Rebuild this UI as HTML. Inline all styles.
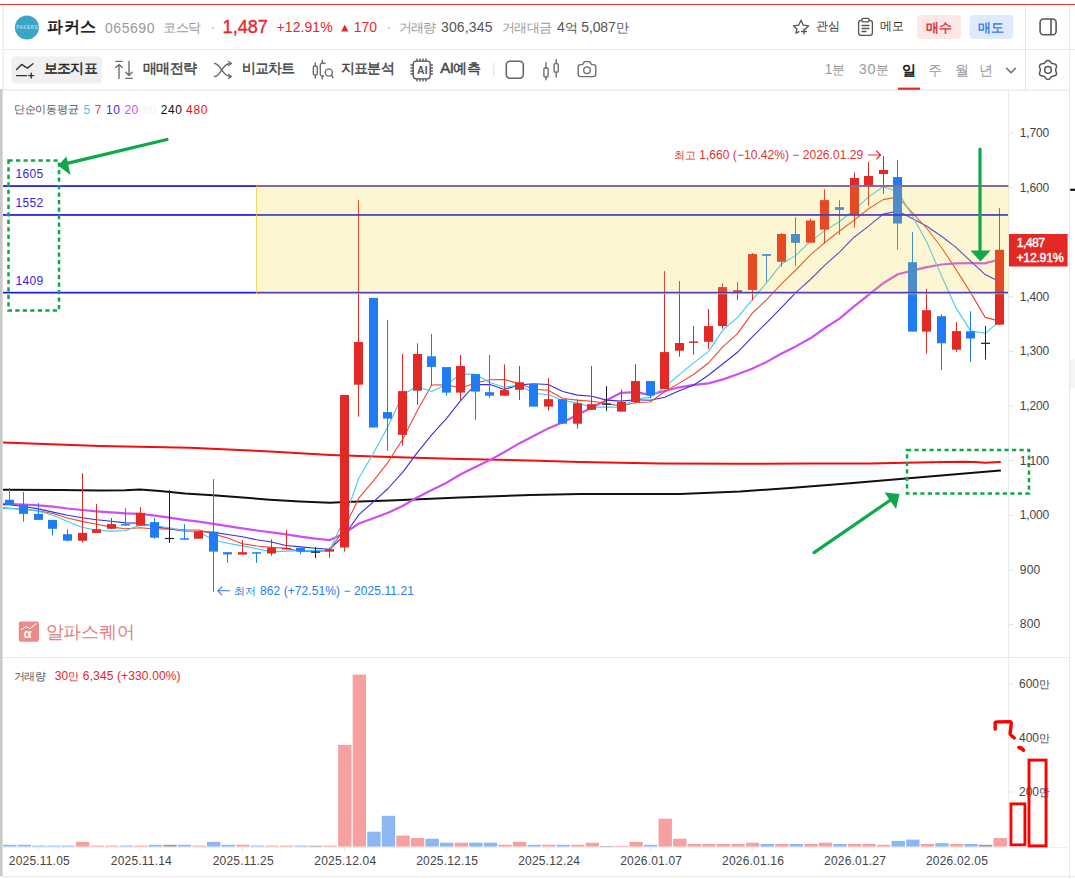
<!DOCTYPE html>
<html lang="ko"><head><meta charset="utf-8"><title>chart</title>
<style>
html,body{margin:0;padding:0;background:#fff}
body{width:1075px;height:879px;overflow:hidden;position:relative;font-family:"Liberation Sans",sans-serif}
svg{position:absolute;left:0;top:0}
.t{position:absolute;white-space:nowrap;margin:0;padding:0}
.k{display:inline-block;text-align:left;overflow:visible;white-space:nowrap}
</style></head><body>
<svg width="1075" height="879" viewBox="0 0 1075 879">
<rect x="0" y="4" width="1075" height="1" fill="#e23b3b"/>
<rect x="0" y="89" width="2.6" height="788" fill="#c9c9c9"/>
<rect x="2.6" y="5" width="1" height="85" fill="#e6e6e6"/>
<rect x="3" y="49" width="1072" height="1" fill="#e8e8e8"/>
<rect x="3" y="89.6" width="1067" height="1" fill="#e4e4e4"/>
<rect x="1069" y="5" width="1" height="874" fill="#e9e9e9"/>
<rect x="1025" y="5" width="1" height="85" fill="#e6e6e6"/>
<rect x="1008" y="90" width="1" height="757" fill="#ebebeb"/>
<rect x="3" y="657" width="1065" height="1" fill="#e9e9e9"/>
<rect x="3" y="847" width="1065" height="1" fill="#efefef"/>
<rect x="0" y="876" width="1075" height="1" fill="#e6e6e6"/>
<rect x="1070" y="359.3" width="5" height="29" fill="#f5f5f5"/>
<rect x="1070.2" y="188.7" width="5" height="2.2" fill="#111"/>
<rect x="1009" y="132.6" width="4" height="1" fill="#e2e2e2"/>
<rect x="1009" y="187.2" width="4" height="1" fill="#e2e2e2"/>
<rect x="1009" y="296.4" width="4" height="1" fill="#e2e2e2"/>
<rect x="1009" y="351.0" width="4" height="1" fill="#e2e2e2"/>
<rect x="1009" y="405.6" width="4" height="1" fill="#e2e2e2"/>
<rect x="1009" y="460.2" width="4" height="1" fill="#e2e2e2"/>
<rect x="1009" y="514.8" width="4" height="1" fill="#e2e2e2"/>
<rect x="1009" y="569.4" width="4" height="1" fill="#e2e2e2"/>
<rect x="1009" y="624.0" width="4" height="1" fill="#e2e2e2"/>
<rect x="1009" y="683.4" width="4" height="1" fill="#e2e2e2"/>
<rect x="1009" y="737.6" width="4" height="1" fill="#e2e2e2"/>
<rect x="1009" y="791.5" width="4" height="1" fill="#e2e2e2"/>
<rect x="37.9" y="847" width="1" height="4" fill="#e2e2e2"/>
<rect x="139.9" y="847" width="1" height="4" fill="#e2e2e2"/>
<rect x="241.8" y="847" width="1" height="4" fill="#e2e2e2"/>
<rect x="343.8" y="847" width="1" height="4" fill="#e2e2e2"/>
<rect x="445.8" y="847" width="1" height="4" fill="#e2e2e2"/>
<rect x="547.7" y="847" width="1" height="4" fill="#e2e2e2"/>
<rect x="649.7" y="847" width="1" height="4" fill="#e2e2e2"/>
<rect x="751.6" y="847" width="1" height="4" fill="#e2e2e2"/>
<rect x="853.6" y="847" width="1" height="4" fill="#e2e2e2"/>
<rect x="955.5" y="847" width="1" height="4" fill="#e2e2e2"/>
<clipPath id="cp"><rect x="3" y="91" width="1005.5" height="565"/></clipPath>
<g clip-path="url(#cp)">
<polyline points="3.0,489.7 60.0,490.0 100.0,490.5 125.0,490.3 140.0,489.5 160.0,491.0 185.0,493.5 213.0,495.3 270.0,499.7 300.0,501.5 330.0,502.7 345.0,502.0 390.0,500.5 460.0,497.5 530.0,495.0 580.0,494.0 680.0,494.0 740.0,491.5 790.0,488.1 850.0,483.2 900.0,479.0 950.0,474.8 1000.0,470.6" fill="none" stroke="#111" stroke-width="2" stroke-linejoin="round" stroke-linecap="round" />
<polyline points="3.0,442.5 100.0,446.0 190.0,447.8 270.0,451.5 330.0,454.9 390.0,457.1 460.0,459.0 530.0,460.5 580.0,462.0 660.0,463.6 740.0,463.8 810.0,463.6 870.0,463.5 930.0,462.2 965.0,461.8 975.0,462.0 985.0,462.7 1000.0,461.9" fill="none" stroke="#f20d0d" stroke-width="2" stroke-linejoin="round" stroke-linecap="round" />
<polyline points="-5.3,503.9 9.3,504.0 23.9,504.5 38.4,505.4 53.0,506.6 67.6,508.5 82.1,510.0 96.7,511.3 111.3,512.3 125.8,513.4 140.4,513.9 155.0,515.6 169.5,517.7 184.1,519.9 198.6,521.7 213.2,523.8 227.8,526.1 242.3,528.3 256.9,530.5 271.5,532.4 286.0,534.4 300.6,536.7 315.2,538.6 329.7,540.1 344.3,533.4 358.9,523.5 373.4,518.2 388.0,512.7 402.6,506.0 417.1,497.4 431.7,490.1 446.2,482.9 460.8,474.3 475.4,466.9 489.9,460.1 504.5,452.0 519.1,443.4 533.6,436.1 548.2,428.4 562.8,422.2 577.3,415.0 591.9,407.6 606.5,400.2 621.0,392.8 635.6,392.1 650.2,394.8 664.7,391.0 679.3,387.3 693.9,384.8 708.4,383.4 723.0,379.4 737.5,374.3 752.1,368.7 766.7,361.9 781.2,353.8 795.8,346.4 810.4,338.3 824.9,328.0 839.5,318.6 854.1,306.3 868.6,294.9 883.2,283.2 897.8,274.2 912.3,270.6 926.9,267.1 941.5,264.5 956.0,263.4 970.6,263.2 985.2,263.3 999.7,259.5" fill="none" stroke="#cf4ff0" stroke-width="2.2" stroke-linejoin="round" stroke-linecap="round" />
<polyline points="-5.3,504.5 9.3,504.7 23.9,506.5 38.4,508.9 53.0,512.1 67.6,515.3 82.1,517.7 96.7,519.7 111.3,521.2 125.8,522.9 140.4,523.3 155.0,526.6 169.5,529.0 184.1,531.0 198.6,531.3 213.2,532.4 227.8,534.5 242.3,536.8 256.9,539.8 271.5,542.0 286.0,545.5 300.6,546.9 315.2,548.2 329.7,549.2 344.3,535.5 358.9,514.6 373.4,501.9 388.0,488.5 402.6,472.3 417.1,452.9 431.7,434.8 446.2,418.9 460.8,400.3 475.4,384.5 489.9,384.6 504.5,389.4 519.1,384.9 533.6,383.7 548.2,384.5 562.8,391.5 577.3,395.1 591.9,396.3 606.5,400.1 621.0,401.1 635.6,399.7 650.2,400.2 664.7,397.2 679.3,390.8 693.9,385.0 708.4,375.3 723.0,363.7 737.5,352.3 752.1,337.2 766.7,322.6 781.2,307.9 795.8,292.7 810.4,279.5 824.9,265.2 839.5,252.1 854.1,237.2 868.6,226.1 883.2,214.1 897.8,211.1 912.3,218.6 926.9,226.3 941.5,236.3 956.0,247.4 970.6,261.2 985.2,274.6 999.7,281.7" fill="none" stroke="#3a2fe0" stroke-width="1.1" stroke-linejoin="round" stroke-linecap="round" />
<polyline points="-5.3,507.1 9.3,508.4 23.9,509.1 38.4,510.7 53.0,513.5 67.6,518.0 82.1,521.4 96.7,524.3 111.3,527.1 125.8,528.7 140.4,527.7 155.0,529.0 169.5,528.7 184.1,529.7 198.6,530.0 213.2,533.9 227.8,538.0 242.3,543.7 256.9,546.0 271.5,547.2 286.0,548.4 300.6,551.3 315.2,551.4 329.7,550.6 344.3,528.2 358.9,497.9 373.4,480.8 388.0,462.3 402.6,439.4 417.1,411.1 431.7,385.0 446.2,384.7 460.8,388.1 475.4,383.0 489.9,379.7 504.5,379.6 519.1,383.6 533.6,389.3 548.2,390.2 562.8,398.5 577.3,400.1 591.9,401.3 606.5,403.4 621.0,406.2 635.6,402.5 650.2,402.0 664.7,391.8 679.3,383.1 693.9,374.2 708.4,363.0 723.0,346.6 737.5,333.6 752.1,313.4 766.7,299.7 781.2,284.1 795.8,270.0 810.4,254.9 824.9,242.5 839.5,231.0 854.1,220.2 868.6,208.8 883.2,199.6 897.8,196.9 912.3,212.7 926.9,228.5 941.5,247.5 956.0,269.4 970.6,292.6 985.2,317.4 999.7,321.1" fill="none" stroke="#f5442f" stroke-width="1.1" stroke-linejoin="round" stroke-linecap="round" />
<polyline points="-5.3,509.0 9.3,508.2 23.9,509.1 38.4,511.3 53.0,515.3 67.6,521.6 82.1,527.2 96.7,530.3 111.3,531.1 125.8,530.5 140.4,524.9 155.0,525.9 169.5,527.7 184.1,530.9 198.6,532.1 213.2,539.8 227.8,543.2 242.3,545.9 256.9,548.7 271.5,551.9 286.0,551.1 300.6,550.6 315.2,550.6 329.7,549.7 344.3,519.2 358.9,478.0 373.4,453.2 388.0,426.5 402.6,394.8 417.1,386.6 431.7,391.6 446.2,384.6 460.8,374.1 475.4,374.2 489.9,382.6 504.5,387.2 519.1,385.1 533.6,393.3 548.2,394.8 562.8,400.4 577.3,403.0 591.9,407.4 606.5,406.9 621.0,407.5 635.6,399.0 650.2,397.4 664.7,387.0 679.3,374.7 693.9,362.6 708.4,351.6 723.0,329.9 737.5,317.6 752.1,299.8 766.7,282.7 781.2,264.2 795.8,255.4 810.4,241.4 824.9,230.6 839.5,221.5 854.1,210.3 868.6,196.9 883.2,186.8 897.8,191.5 912.3,215.8 926.9,242.3 941.5,275.7 956.0,307.9 970.6,330.9 985.2,333.3 999.7,321.2" fill="none" stroke="#45c8f5" stroke-width="1.1" stroke-linejoin="round" stroke-linecap="round" />
<rect x="9" y="488.0" width="1" height="16.8" fill="#1f7cf5"/>
<rect x="5" y="499.8" width="9" height="5.0" fill="#1f7cf5"/>
<rect x="23" y="492.0" width="1" height="29.7" fill="#1f7cf5"/>
<rect x="19" y="504.8" width="9" height="9.1" fill="#1f7cf5"/>
<rect x="38" y="503.1" width="1" height="16.8" fill="#1f7cf5"/>
<rect x="34" y="513.9" width="9" height="6.0" fill="#1f7cf5"/>
<rect x="52" y="519.9" width="1" height="15.8" fill="#1f7cf5"/>
<rect x="48" y="519.9" width="9" height="8.9" fill="#1f7cf5"/>
<rect x="67" y="529.2" width="1" height="12.4" fill="#1f7cf5"/>
<rect x="63" y="534.2" width="9" height="6.5" fill="#1f7cf5"/>
<rect x="82" y="473.2" width="1" height="69.4" fill="#e22926"/>
<rect x="78" y="532.9" width="9" height="7.8" fill="#e22926"/>
<rect x="96" y="504.0" width="1" height="28.9" fill="#e22926"/>
<rect x="92" y="529.2" width="9" height="3.7" fill="#e22926"/>
<rect x="111" y="518.0" width="1" height="10.8" fill="#e22926"/>
<rect x="107" y="524.1" width="9" height="4.7" fill="#e22926"/>
<rect x="125" y="508.1" width="1" height="17.5" fill="#1f7cf5"/>
<rect x="121" y="524.1" width="9" height="1.5" fill="#1f7cf5"/>
<rect x="140" y="507.2" width="1" height="18.4" fill="#e22926"/>
<rect x="136" y="512.8" width="9" height="12.8" fill="#e22926"/>
<rect x="154" y="518.0" width="1" height="20.8" fill="#1f7cf5"/>
<rect x="150" y="522.1" width="9" height="15.6" fill="#1f7cf5"/>
<rect x="169" y="490.1" width="1" height="52.8" fill="#222"/>
<rect x="165" y="537.9" width="9" height="1.2" fill="#222"/>
<rect x="184" y="524.0" width="1" height="15.8" fill="#1f7cf5"/>
<rect x="180" y="538.3" width="9" height="1.5" fill="#1f7cf5"/>
<rect x="198" y="531.2" width="1" height="7.5" fill="#e22926"/>
<rect x="194" y="531.5" width="9" height="7.2" fill="#e22926"/>
<rect x="213" y="479.1" width="1" height="112.5" fill="#1f7cf5"/>
<rect x="209" y="531.7" width="9" height="19.9" fill="#1f7cf5"/>
<rect x="227" y="552.2" width="1" height="10.6" fill="#1f7cf5"/>
<rect x="223" y="552.2" width="9" height="2.2" fill="#1f7cf5"/>
<rect x="242" y="540.1" width="1" height="14.5" fill="#e22926"/>
<rect x="238" y="552.2" width="9" height="2.4" fill="#e22926"/>
<rect x="256" y="552.2" width="1" height="10.6" fill="#1f7cf5"/>
<rect x="252" y="552.2" width="9" height="1.5" fill="#1f7cf5"/>
<rect x="271" y="539.2" width="1" height="16.5" fill="#e22926"/>
<rect x="267" y="547.5" width="9" height="6.0" fill="#e22926"/>
<rect x="286" y="529.9" width="1" height="19.5" fill="#e22926"/>
<rect x="282" y="547.9" width="9" height="1.5" fill="#e22926"/>
<rect x="300" y="547.9" width="1" height="6.5" fill="#1f7cf5"/>
<rect x="296" y="547.9" width="9" height="3.7" fill="#1f7cf5"/>
<rect x="315" y="547.0" width="1" height="11.1" fill="#222"/>
<rect x="311" y="551.6" width="9" height="1.2" fill="#222"/>
<rect x="329" y="547.5" width="1" height="10.3" fill="#e22926"/>
<rect x="325" y="549.2" width="9" height="2.4" fill="#e22926"/>
<rect x="344" y="395.0" width="1" height="156.6" fill="#e22926"/>
<rect x="340" y="395.0" width="9" height="152.5" fill="#e22926"/>
<rect x="358" y="200.2" width="1" height="216.5" fill="#e22926"/>
<rect x="354" y="342.0" width="9" height="42.7" fill="#e22926"/>
<rect x="373" y="297.9" width="1" height="129.6" fill="#1f7cf5"/>
<rect x="369" y="297.9" width="9" height="129.6" fill="#1f7cf5"/>
<rect x="387" y="319.9" width="1" height="130.9" fill="#1f7cf5"/>
<rect x="383" y="412.1" width="9" height="6.5" fill="#1f7cf5"/>
<rect x="402" y="354.0" width="1" height="91.6" fill="#e22926"/>
<rect x="398" y="391.1" width="9" height="43.7" fill="#e22926"/>
<rect x="417" y="343.3" width="1" height="61.4" fill="#e22926"/>
<rect x="413" y="354.0" width="9" height="36.7" fill="#e22926"/>
<rect x="431" y="334.0" width="1" height="51.1" fill="#1f7cf5"/>
<rect x="427" y="356.3" width="9" height="10.6" fill="#1f7cf5"/>
<rect x="446" y="367.1" width="1" height="28.6" fill="#1f7cf5"/>
<rect x="442" y="367.1" width="9" height="25.5" fill="#1f7cf5"/>
<rect x="460" y="355.0" width="1" height="45.0" fill="#e22926"/>
<rect x="456" y="366.0" width="9" height="26.6" fill="#e22926"/>
<rect x="475" y="374.1" width="1" height="45.8" fill="#1f7cf5"/>
<rect x="471" y="374.1" width="9" height="17.5" fill="#1f7cf5"/>
<rect x="489" y="355.0" width="1" height="42.8" fill="#1f7cf5"/>
<rect x="485" y="392.2" width="9" height="3.5" fill="#1f7cf5"/>
<rect x="504" y="364.3" width="1" height="31.4" fill="#e22926"/>
<rect x="500" y="390.1" width="9" height="5.6" fill="#e22926"/>
<rect x="519" y="366.0" width="1" height="34.0" fill="#e22926"/>
<rect x="515" y="382.3" width="9" height="7.5" fill="#e22926"/>
<rect x="533" y="384.1" width="1" height="22.5" fill="#1f7cf5"/>
<rect x="529" y="384.1" width="9" height="22.5" fill="#1f7cf5"/>
<rect x="548" y="378.1" width="1" height="32.6" fill="#e22926"/>
<rect x="544" y="399.2" width="9" height="7.4" fill="#e22926"/>
<rect x="562" y="399.2" width="1" height="24.5" fill="#1f7cf5"/>
<rect x="558" y="399.2" width="9" height="24.5" fill="#1f7cf5"/>
<rect x="577" y="399.5" width="1" height="29.2" fill="#e22926"/>
<rect x="573" y="403.3" width="9" height="20.4" fill="#e22926"/>
<rect x="591" y="366.0" width="1" height="43.8" fill="#e22926"/>
<rect x="587" y="404.2" width="9" height="5.6" fill="#e22926"/>
<rect x="606" y="386.1" width="1" height="25.0" fill="#222"/>
<rect x="602" y="403.6" width="9" height="1.2" fill="#222"/>
<rect x="621" y="389.3" width="1" height="22.3" fill="#e22926"/>
<rect x="617" y="402.0" width="9" height="9.6" fill="#e22926"/>
<rect x="635" y="364.2" width="1" height="39.4" fill="#e22926"/>
<rect x="631" y="381.1" width="9" height="20.9" fill="#e22926"/>
<rect x="650" y="381.1" width="1" height="17.5" fill="#1f7cf5"/>
<rect x="646" y="381.1" width="9" height="14.3" fill="#1f7cf5"/>
<rect x="664" y="271.1" width="1" height="117.8" fill="#e22926"/>
<rect x="660" y="352.1" width="9" height="36.8" fill="#e22926"/>
<rect x="679" y="281.1" width="1" height="75.6" fill="#e22926"/>
<rect x="675" y="343.0" width="9" height="7.7" fill="#e22926"/>
<rect x="693" y="326.1" width="1" height="28.7" fill="#e22926"/>
<rect x="689" y="341.4" width="9" height="1.5" fill="#e22926"/>
<rect x="708" y="309.0" width="1" height="39.8" fill="#e22926"/>
<rect x="704" y="326.1" width="9" height="15.7" fill="#e22926"/>
<rect x="722" y="283.2" width="1" height="45.5" fill="#e22926"/>
<rect x="718" y="287.1" width="9" height="38.9" fill="#e22926"/>
<rect x="737" y="281.9" width="1" height="18.0" fill="#e22926"/>
<rect x="733" y="290.2" width="9" height="1.9" fill="#e22926"/>
<rect x="752" y="253.0" width="1" height="47.5" fill="#e22926"/>
<rect x="748" y="254.1" width="9" height="35.8" fill="#e22926"/>
<rect x="766" y="254.1" width="1" height="27.8" fill="#1f7cf5"/>
<rect x="762" y="254.1" width="9" height="1.7" fill="#1f7cf5"/>
<rect x="781" y="233.1" width="1" height="33.5" fill="#e22926"/>
<rect x="777" y="234.0" width="9" height="27.8" fill="#e22926"/>
<rect x="795" y="217.3" width="1" height="48.4" fill="#1f7cf5"/>
<rect x="791" y="234.0" width="9" height="8.8" fill="#1f7cf5"/>
<rect x="810" y="218.6" width="1" height="24.1" fill="#e22926"/>
<rect x="806" y="220.5" width="9" height="22.2" fill="#e22926"/>
<rect x="824" y="189.2" width="1" height="54.2" fill="#e22926"/>
<rect x="820" y="200.1" width="9" height="29.5" fill="#e22926"/>
<rect x="839" y="200.1" width="1" height="34.6" fill="#1f7cf5"/>
<rect x="835" y="207.2" width="9" height="2.7" fill="#1f7cf5"/>
<rect x="854" y="172.4" width="1" height="55.3" fill="#e22926"/>
<rect x="850" y="178.0" width="9" height="36.7" fill="#e22926"/>
<rect x="868" y="162.2" width="1" height="43.5" fill="#e22926"/>
<rect x="864" y="176.0" width="9" height="10.0" fill="#e22926"/>
<rect x="883" y="156.0" width="1" height="37.8" fill="#e22926"/>
<rect x="879" y="170.0" width="9" height="4.1" fill="#e22926"/>
<rect x="897" y="159.8" width="1" height="89.9" fill="#1f7cf5"/>
<rect x="893" y="177.1" width="9" height="46.4" fill="#1f7cf5"/>
<rect x="912" y="232.0" width="1" height="99.6" fill="#1f7cf5"/>
<rect x="908" y="262.2" width="9" height="69.4" fill="#1f7cf5"/>
<rect x="926" y="288.8" width="1" height="64.8" fill="#e22926"/>
<rect x="922" y="310.2" width="9" height="21.4" fill="#e22926"/>
<rect x="941" y="314.3" width="1" height="55.5" fill="#1f7cf5"/>
<rect x="937" y="316.2" width="9" height="27.1" fill="#1f7cf5"/>
<rect x="956" y="322.0" width="1" height="29.7" fill="#e22926"/>
<rect x="952" y="331.1" width="9" height="18.6" fill="#e22926"/>
<rect x="970" y="311.2" width="1" height="50.6" fill="#1f7cf5"/>
<rect x="966" y="331.3" width="9" height="7.2" fill="#1f7cf5"/>
<rect x="985" y="326.0" width="1" height="33.5" fill="#222"/>
<rect x="981" y="342.7" width="9" height="1.2" fill="#222"/>
<rect x="999" y="208.0" width="1" height="116.7" fill="#e22926"/>
<rect x="995" y="249.8" width="9" height="74.9" fill="#e22926"/>
<rect x="3" y="185.2" width="1005" height="1.7" fill="#1d16e8"/>
<rect x="3" y="214.1" width="1005" height="1.7" fill="#1d16e8"/>
<rect x="3" y="291.8" width="1005" height="1.7" fill="#1d16e8"/>
</g>
<rect x="3.10" y="844.8" width="13.4" height="1.8" fill="#8db7f4"/>
<rect x="17.67" y="844.8" width="13.4" height="1.8" fill="#8db7f4"/>
<rect x="32.23" y="845.6" width="13.4" height="1.0" fill="#8db7f4"/>
<rect x="46.80" y="845.6" width="13.4" height="1.0" fill="#8db7f4"/>
<rect x="61.36" y="845.6" width="13.4" height="1.0" fill="#8db7f4"/>
<rect x="75.92" y="841.9" width="13.4" height="4.7" fill="#f6a0a0"/>
<rect x="90.49" y="845.6" width="13.4" height="1.0" fill="#f6a0a0"/>
<rect x="105.05" y="845.6" width="13.4" height="1.0" fill="#f6a0a0"/>
<rect x="119.62" y="845.6" width="13.4" height="1.0" fill="#8db7f4"/>
<rect x="134.19" y="845.6" width="13.4" height="1.0" fill="#f6a0a0"/>
<rect x="148.75" y="844.8" width="13.4" height="1.8" fill="#8db7f4"/>
<rect x="163.32" y="844.8" width="13.4" height="1.8" fill="#9a9a9a"/>
<rect x="177.88" y="844.8" width="13.4" height="1.8" fill="#8db7f4"/>
<rect x="192.45" y="845.6" width="13.4" height="1.0" fill="#f6a0a0"/>
<rect x="207.01" y="841.9" width="13.4" height="4.7" fill="#8db7f4"/>
<rect x="221.58" y="844.8" width="13.4" height="1.8" fill="#8db7f4"/>
<rect x="236.14" y="844.8" width="13.4" height="1.8" fill="#f6a0a0"/>
<rect x="250.70" y="845.6" width="13.4" height="1.0" fill="#8db7f4"/>
<rect x="265.27" y="845.6" width="13.4" height="1.0" fill="#f6a0a0"/>
<rect x="279.84" y="845.6" width="13.4" height="1.0" fill="#f6a0a0"/>
<rect x="294.40" y="845.6" width="13.4" height="1.0" fill="#8db7f4"/>
<rect x="308.97" y="845.8" width="13.4" height="0.8" fill="#9a9a9a"/>
<rect x="323.53" y="845.6" width="13.4" height="1.0" fill="#f6a0a0"/>
<rect x="338.10" y="744.9" width="13.4" height="101.7" fill="#f6a0a0"/>
<rect x="352.66" y="674.6" width="13.4" height="172.0" fill="#f6a0a0"/>
<rect x="367.23" y="831.7" width="13.4" height="14.9" fill="#8db7f4"/>
<rect x="381.79" y="815.8" width="13.4" height="30.8" fill="#8db7f4"/>
<rect x="396.36" y="835.6" width="13.4" height="11.0" fill="#f6a0a0"/>
<rect x="410.92" y="838.0" width="13.4" height="8.6" fill="#f6a0a0"/>
<rect x="425.49" y="838.8" width="13.4" height="7.8" fill="#8db7f4"/>
<rect x="440.05" y="842.7" width="13.4" height="3.9" fill="#8db7f4"/>
<rect x="454.62" y="842.7" width="13.4" height="3.9" fill="#f6a0a0"/>
<rect x="469.18" y="842.7" width="13.4" height="3.9" fill="#8db7f4"/>
<rect x="483.75" y="842.7" width="13.4" height="3.9" fill="#8db7f4"/>
<rect x="498.31" y="844.8" width="13.4" height="1.8" fill="#f6a0a0"/>
<rect x="512.87" y="841.9" width="13.4" height="4.7" fill="#f6a0a0"/>
<rect x="527.44" y="844.8" width="13.4" height="1.8" fill="#8db7f4"/>
<rect x="542.00" y="844.8" width="13.4" height="1.8" fill="#f6a0a0"/>
<rect x="556.57" y="844.8" width="13.4" height="1.8" fill="#8db7f4"/>
<rect x="571.13" y="844.8" width="13.4" height="1.8" fill="#f6a0a0"/>
<rect x="585.70" y="842.7" width="13.4" height="3.9" fill="#f6a0a0"/>
<rect x="600.26" y="846.0" width="13.4" height="0.6" fill="#9a9a9a"/>
<rect x="614.83" y="845.8" width="13.4" height="0.8" fill="#f6a0a0"/>
<rect x="629.39" y="841.9" width="13.4" height="4.7" fill="#f6a0a0"/>
<rect x="643.96" y="844.8" width="13.4" height="1.8" fill="#8db7f4"/>
<rect x="658.52" y="818.7" width="13.4" height="27.9" fill="#f6a0a0"/>
<rect x="673.09" y="838.8" width="13.4" height="7.8" fill="#f6a0a0"/>
<rect x="687.65" y="844.0" width="13.4" height="2.6" fill="#f6a0a0"/>
<rect x="702.22" y="844.0" width="13.4" height="2.6" fill="#f6a0a0"/>
<rect x="716.78" y="844.0" width="13.4" height="2.6" fill="#f6a0a0"/>
<rect x="731.35" y="844.0" width="13.4" height="2.6" fill="#f6a0a0"/>
<rect x="745.91" y="842.7" width="13.4" height="3.9" fill="#f6a0a0"/>
<rect x="760.48" y="844.0" width="13.4" height="2.6" fill="#8db7f4"/>
<rect x="775.04" y="844.0" width="13.4" height="2.6" fill="#f6a0a0"/>
<rect x="789.61" y="844.0" width="13.4" height="2.6" fill="#8db7f4"/>
<rect x="804.17" y="844.0" width="13.4" height="2.6" fill="#f6a0a0"/>
<rect x="818.74" y="842.7" width="13.4" height="3.9" fill="#f6a0a0"/>
<rect x="833.30" y="844.0" width="13.4" height="2.6" fill="#8db7f4"/>
<rect x="847.87" y="844.0" width="13.4" height="2.6" fill="#f6a0a0"/>
<rect x="862.43" y="844.0" width="13.4" height="2.6" fill="#f6a0a0"/>
<rect x="877.00" y="844.8" width="13.4" height="1.8" fill="#f6a0a0"/>
<rect x="891.56" y="840.9" width="13.4" height="5.7" fill="#8db7f4"/>
<rect x="906.13" y="839.6" width="13.4" height="7.0" fill="#8db7f4"/>
<rect x="920.69" y="844.0" width="13.4" height="2.6" fill="#f6a0a0"/>
<rect x="935.26" y="843.2" width="13.4" height="3.4" fill="#8db7f4"/>
<rect x="949.82" y="844.0" width="13.4" height="2.6" fill="#f6a0a0"/>
<rect x="964.39" y="844.0" width="13.4" height="2.6" fill="#8db7f4"/>
<rect x="978.95" y="844.8" width="13.4" height="1.8" fill="#9a9a9a"/>
<rect x="993.52" y="838.0" width="13.4" height="8.6" fill="#f6a0a0"/>
<rect x="256" y="185.2" width="752.5" height="108.6" fill="rgba(245,210,35,0.2)"/>
<rect x="256" y="185.1" width="752.5" height="1.8" fill="#8d7090"/>
<rect x="256" y="186" width="1" height="107.5" fill="rgba(240,200,50,0.7)"/>
<rect x="256" y="293.4" width="752.5" height="0.9" fill="rgba(240,200,50,0.7)"/>
<rect x="8.5" y="160.5" width="50.5" height="150" fill="none" stroke="#0ea84b" stroke-width="2.5" stroke-dasharray="4.2 3.3"/>
<rect x="907" y="450" width="122" height="43.5" fill="none" stroke="#0ea84b" stroke-width="2.5" stroke-dasharray="4.2 3.3"/>
<line x1="167" y1="139.5" x2="66" y2="163.6" stroke="#0ea84b" stroke-width="3.2" stroke-linecap="round"/>
<polygon points="58,165.5 66.5,156.5 70.5,175" fill="#0ea84b"/>
<line x1="814" y1="552.6" x2="892" y2="499" stroke="#0ea84b" stroke-width="3.2" stroke-linecap="round"/>
<polygon points="899.5,494 884.5,492.5 896,509" fill="#0ea84b"/>
<line x1="980" y1="149" x2="980" y2="252" stroke="#0ea84b" stroke-width="3.2" stroke-linecap="round"/>
<polygon points="970.5,250.5 990.5,250.5 980.5,261.5" fill="#0ea84b"/>
<rect x="1010.95" y="803.85" width="13.95" height="41" fill="none" stroke="#f00" stroke-width="2.8"/>
<rect x="1029" y="760.1" width="17.05" height="85.8" fill="none" stroke="#f00" stroke-width="2.9"/>
<path d="M995.2,729.1 L995.1,723.4 Q995.1,721.9 996.8,721.9 L1009.8,721.6 Q1011.5,721.6 1011.3,723.4 L1010.5,730.5 Q1009.6,734 1010.8,735 L1014.3,738" fill="none" stroke="#f00" stroke-width="3.4" stroke-linecap="round" stroke-linejoin="round"/>
<path d="M1018.9,747.6 Q1021.6,747.6 1023.5,750.2" fill="none" stroke="#f00" stroke-width="3.6" stroke-linecap="round"/>
<path d="M868.5,155 L880.6,155 M876.6,151 L880.6,155 L876.6,159" fill="none" stroke="#e0342f" stroke-width="1.1" stroke-linecap="round" stroke-linejoin="round"/>
<path d="M229.6,590.8 L217.8,590.8 M221.8,586.8 L217.8,590.8 L221.8,594.8" fill="none" stroke="#2b7de9" stroke-width="1.1" stroke-linecap="round" stroke-linejoin="round"/>
<rect x="1009" y="234" width="58.6" height="32.5" fill="#e22926"/>
<rect x="18.8" y="621.6" width="20.2" height="20.2" rx="2" fill="#ea8c8c"/>
<polyline points="21,630 26,626.5 30,628.5 36.5,623.5" fill="none" stroke="#fff" stroke-width="1"/>
<circle cx="26.9" cy="27.6" r="12" fill="#3ba5c6"/>
<rect x="11.3" y="56.5" width="90.5" height="27" rx="4" fill="#f0f0f0"/>
<g fill="none" stroke="#333" stroke-width="1.4" stroke-linecap="round" stroke-linejoin="round"><path d="M16.6,69.6 L21.6,64.4 L27.4,68.1 L33,63.7"/><path d="M16.6,75.6 L26.6,75.6"/><path d="M28.8,75.6 L33.6,75.6 M31.2,73.2 L31.2,78"/></g>
<g fill="none" stroke="#6e6e6e" stroke-width="1.4" stroke-linecap="round" stroke-linejoin="round"><path d="M115.8,61.4 L122.2,61.4"/><path d="M119,78.4 L119,64.4 M115.8,67.6 L119,64.4 L122.2,67.6"/><path d="M129,61.4 L129,75.4 M125.8,72.2 L129,75.4 L132.2,72.2"/><path d="M125.8,78.4 L132.2,78.4"/></g>
<g fill="none" stroke="#6e6e6e" stroke-width="1.4" stroke-linecap="round" stroke-linejoin="round"><path d="M214.5,63.5 C221,63.5 222,76.5 230,76.5"/><path d="M214.5,76.5 C221,76.5 222,63.5 230,63.5"/><path d="M228.5,61.5 L231.5,63.5 L228.5,65.5 M228.5,74.5 L231.5,76.5 L228.5,78.5"/></g>
<g fill="none" stroke="#6e6e6e" stroke-width="1.4" stroke-linecap="round" stroke-linejoin="round"><rect x="313.3" y="66" width="4" height="9" rx="1.6"/><path d="M315.3,63 L315.3,66 M315.3,75 L315.3,78"/><path d="M322.3,60.5 L322.3,63 M322.3,76 L322.3,79"/><path d="M325,63.5 C323,62.5 320.3,63 320.3,65 L320.3,74 C320.3,76 322.5,76.5 323.5,76"/><circle cx="328.8" cy="72.5" r="3.6"/><path d="M331.5,75.5 L333,77.5"/></g>
<g fill="none" stroke="#555" stroke-width="1.3" stroke-linecap="round"><rect x="413.2" y="61.2" width="17" height="17.6" rx="3"/><path d="M417,59 L417,61 M420,59 L420,61 M423,59 L423,61 M426,59 L426,61 M417,79 L417,81 M420,79 L420,81 M423,79 L423,81 M426,79 L426,81 M411,65 L413,65 M411,68 L413,68 M411,71 L413,71 M411,74 L413,74 M430.4,65 L432.4,65 M430.4,68 L432.4,68 M430.4,71 L432.4,71 M430.4,74 L432.4,74"/></g>
<rect x="493.3" y="62.8" width="1" height="14" fill="#dedede"/>
<rect x="506.3" y="61.2" width="17" height="17" rx="3.6" fill="none" stroke="#666" stroke-width="1.6"/>
<g fill="none" stroke="#6e6e6e" stroke-width="1.4" stroke-linecap="round"><rect x="543.9" y="68" width="4.2" height="9" rx="1.2"/><path d="M546,62.6 L546,68 M546,77 L546,79.8"/><rect x="554.1" y="63.6" width="4.2" height="8.5" rx="1.2"/><path d="M556.2,59.6 L556.2,63.6 M556.2,72.1 L556.2,77"/></g>
<g fill="none" stroke="#6e6e6e" stroke-width="1.4" stroke-linejoin="round"><path d="M580.6,64.6 L582.6,64.6 L584.4,61.6 L589.8,61.6 L591.6,64.6 L593.2,64.6 Q595.8,64.6 595.8,67.2 L595.8,74 Q595.8,76.6 593.2,76.6 L580.6,76.6 Q578.2,76.6 578.2,74 L578.2,67.2 Q578.2,64.6 580.6,64.6 Z"/><circle cx="587" cy="70.2" r="3.3"/></g>
<g fill="none" stroke="#555" stroke-width="1.3" stroke-linejoin="round" stroke-linecap="round"><path d="M801,20.3 L803.3,25.2 L808.6,25.9 L804.8,29.4 M798.9,31.6 L795.9,33.3 L796.9,28.8 L793.4,25.9 L798.7,25.2 L801,20.3"/><path d="M801.5,31.5 L806.5,31.5 M804,29 L804,34"/></g>
<g fill="none" stroke="#555" stroke-width="1.3" stroke-linecap="round"><rect x="858.6" y="20.3" width="13.8" height="15" rx="2.6"/><rect x="862" y="18.3" width="7" height="3.6" rx="1.2" fill="#fff"/><path d="M862,25.5 L869,25.5 M862,28.5 L869,28.5 M862,31.5 L866,31.5"/></g>
<rect x="917.2" y="15.1" width="43.9" height="23.9" rx="4" fill="#fde7e7"/>
<rect x="969.4" y="15.1" width="43.9" height="23.9" rx="4" fill="#dfeafc"/>
<g fill="none" stroke="#555" stroke-width="1.6"><rect x="1040.1" y="19" width="16" height="15.7" rx="3.4"/><path d="M1051,19 L1051,34.7"/></g>
<path d="M1006.5,68.2 L1011,72.7 L1015.5,68.2" fill="none" stroke="#666" stroke-width="1.4" stroke-linecap="round" stroke-linejoin="round"/>
<path d="M1048.00,60.40 L1048.82,60.56 L1049.57,61.01 L1050.21,61.64 L1050.76,62.31 L1051.27,62.90 L1051.80,63.32 L1052.43,63.57 L1053.19,63.71 L1054.05,63.85 L1054.91,64.10 L1055.68,64.52 L1056.23,65.15 L1056.49,65.94 L1056.48,66.81 L1056.26,67.69 L1055.95,68.50 L1055.70,69.23 L1055.60,69.90 L1055.70,70.57 L1055.95,71.30 L1056.26,72.11 L1056.48,72.99 L1056.49,73.86 L1056.23,74.65 L1055.68,75.28 L1054.91,75.70 L1054.05,75.95 L1053.19,76.09 L1052.43,76.23 L1051.80,76.48 L1051.27,76.90 L1050.76,77.49 L1050.21,78.16 L1049.57,78.79 L1048.82,79.24 L1048.00,79.40 L1047.18,79.24 L1046.43,78.79 L1045.79,78.16 L1045.24,77.49 L1044.73,76.90 L1044.20,76.48 L1043.57,76.23 L1042.81,76.09 L1041.95,75.95 L1041.09,75.70 L1040.32,75.28 L1039.77,74.65 L1039.51,73.86 L1039.52,72.99 L1039.74,72.11 L1040.05,71.30 L1040.30,70.57 L1040.40,69.90 L1040.30,69.23 L1040.05,68.50 L1039.74,67.69 L1039.52,66.81 L1039.51,65.94 L1039.77,65.15 L1040.32,64.52 L1041.09,64.10 L1041.95,63.85 L1042.81,63.71 L1043.57,63.57 L1044.20,63.32 L1044.73,62.90 L1045.24,62.31 L1045.79,61.64 L1046.43,61.01 L1047.18,60.56 Z" fill="none" stroke="#555" stroke-width="1.5" stroke-linejoin="round"/>
<circle cx="1048.0" cy="69.9" r="3.3" fill="none" stroke="#555" stroke-width="1.5"/>
<rect x="898" y="87.6" width="22" height="2.2" fill="#e22926"/>
<polygon points="341.2,31.4 348.4,31.4 344.8,24.6" fill="#e8262b"/>
</svg>
<div class="t" style="left:16.2px;top:24.6px;height:6px;line-height:6px;font-size:4.6px;color:#d8eef4;letter-spacing:0.68px;">PAKERS</div>
<div class="t" style="left:47.4px;top:14.5px;height:22px;line-height:22px;font-size:17.6px;color:#111;letter-spacing:0.40px;-webkit-text-stroke:0.55px #111;"><span class="k" style="font-size:16px;width:49.2px">파커스</span></div>
<div class="t" style="left:105.0px;top:19.6px;height:17px;line-height:17px;font-size:14.0px;color:#9a9a9a;letter-spacing:0.55px;">065690</div>
<div class="t" style="left:163.3px;top:17.9px;height:18px;line-height:18px;font-size:14.4px;color:#9a9a9a;letter-spacing:-0.67px;"><span class="k" style="font-size:13px;width:37.0px">코스닥</span></div>
<div class="t" style="left:210.5px;top:18.6px;height:17px;line-height:17px;font-size:14.0px;color:#aaa;">·</div>
<div class="t" style="left:222.6px;top:16.0px;height:22px;line-height:22px;font-size:18.0px;color:#e8262b;letter-spacing:0.04px;-webkit-text-stroke:0.35px #e8262b;">1,487</div>
<div class="t" style="left:276.6px;top:19.1px;height:17px;line-height:17px;font-size:14.0px;color:#e8262b;letter-spacing:0.07px;">+12.91%</div>
<div class="t" style="left:353.8px;top:19.1px;height:17px;line-height:17px;font-size:14.0px;color:#e8262b;letter-spacing:-0.08px;">170</div>
<div class="t" style="left:386.5px;top:18.6px;height:17px;line-height:17px;font-size:14.0px;color:#aaa;">·</div>
<div class="t" style="left:398.5px;top:17.9px;height:18px;line-height:18px;font-size:14.4px;color:#9a9a9a;letter-spacing:-0.91px;"><span class="k" style="font-size:13px;width:36.3px">거래량</span></div>
<div class="t" style="left:441.0px;top:19.1px;height:17px;line-height:17px;font-size:14.0px;color:#555;letter-spacing:0.15px;">306,345</div>
<div class="t" style="left:501.8px;top:17.9px;height:18px;line-height:18px;font-size:14.4px;color:#9a9a9a;letter-spacing:-0.61px;"><span class="k" style="font-size:13px;width:49.6px">거래대금</span></div>
<div class="t" style="left:557.0px;top:19.1px;height:17px;line-height:17px;font-size:14.0px;color:#555;letter-spacing:-0.14px;">4<span class="k" style="font-size:13px;width:12.9px">억</span> 5,087<span class="k" style="font-size:13px;width:12.9px">만</span></div>
<div class="t" style="left:816.0px;top:17.3px;height:17px;line-height:17px;font-size:13.4px;color:#333;"><span class="k" style="font-size:12px;width:24.0px">관심</span></div>
<div class="t" style="left:880.0px;top:17.3px;height:17px;line-height:17px;font-size:13.4px;color:#333;letter-spacing:-0.31px;"><span class="k" style="font-size:12px;width:23.4px">메모</span></div>
<div class="t" style="left:917.2px;top:18.2px;height:18px;line-height:18px;font-size:14.4px;color:#e0262b;width:43.9px;text-align:center;-webkit-text-stroke:0.4px #e0262b;"><span class="k" style="font-size:13px;width:26.0px">매수</span></div>
<div class="t" style="left:969.4px;top:18.2px;height:18px;line-height:18px;font-size:14.4px;color:#2b7de9;width:43.9px;text-align:center;-webkit-text-stroke:0.4px #2b7de9;"><span class="k" style="font-size:13px;width:26.0px">매도</span></div>
<div class="t" style="left:43.8px;top:58.4px;height:19px;line-height:19px;font-size:15.0px;color:#222;letter-spacing:-0.67px;-webkit-text-stroke:0.45px #222;"><span class="k" style="font-size:14px;width:53.3px">보조지표</span></div>
<div class="t" style="left:143.0px;top:58.4px;height:19px;line-height:19px;font-size:15.0px;color:#444;letter-spacing:-0.68px;-webkit-text-stroke:0.45px #444;"><span class="k" style="font-size:14px;width:53.3px">매매전략</span></div>
<div class="t" style="left:241.5px;top:58.4px;height:19px;line-height:19px;font-size:15.0px;color:#444;letter-spacing:-0.68px;-webkit-text-stroke:0.45px #444;"><span class="k" style="font-size:14px;width:53.3px">비교차트</span></div>
<div class="t" style="left:340.7px;top:58.4px;height:19px;line-height:19px;font-size:15.0px;color:#444;letter-spacing:-0.66px;-webkit-text-stroke:0.45px #444;"><span class="k" style="font-size:14px;width:53.3px">지표분석</span></div>
<div class="t" style="left:440.3px;top:58.4px;height:19px;line-height:19px;font-size:15.0px;color:#444;letter-spacing:-0.62px;-webkit-text-stroke:0.45px #444;">AI<span class="k" style="font-size:14px;width:26.8px">예측</span></div>
<div class="t" style="left:416.9px;top:63.7px;height:13px;line-height:13px;font-size:10.4px;color:#555;font-weight:bold;letter-spacing:0.30px;">AI</div>
<div class="t" style="left:824.5px;top:60.4px;height:18px;line-height:18px;font-size:14.4px;color:#9a9a9a;letter-spacing:-0.24px;">1<span class="k" style="font-size:13px;width:12.8px">분</span></div>
<div class="t" style="left:858.8px;top:60.4px;height:18px;line-height:18px;font-size:14.4px;color:#9a9a9a;letter-spacing:0.69px;">30<span class="k" style="font-size:13px;width:13.7px">분</span></div>
<div class="t" style="left:902.4px;top:59.6px;height:19px;line-height:19px;font-size:15.0px;color:#111;-webkit-text-stroke:0.55px #111;"><span class="k" style="font-size:14px;width:14.0px">일</span></div>
<div class="t" style="left:928.4px;top:59.8px;height:19px;line-height:19px;font-size:15.0px;color:#9a9a9a;"><span class="k" style="font-size:14px;width:14.0px">주</span></div>
<div class="t" style="left:954.5px;top:59.8px;height:19px;line-height:19px;font-size:15.0px;color:#9a9a9a;"><span class="k" style="font-size:14px;width:14.0px">월</span></div>
<div class="t" style="left:979.2px;top:59.8px;height:19px;line-height:19px;font-size:15.0px;color:#9a9a9a;"><span class="k" style="font-size:14px;width:14.0px">년</span></div>
<div class="t" style="left:13.8px;top:101.9px;height:15px;line-height:15px;font-size:12.2px;color:#555;letter-spacing:-0.23px;"><span class="k" style="font-size:11px;width:64.6px">단순이동평균</span></div>
<div class="t" style="left:83.6px;top:103.1px;height:15px;line-height:15px;font-size:12.0px;color:#45c8f5;">5</div>
<div class="t" style="left:94.8px;top:103.1px;height:15px;line-height:15px;font-size:12.0px;color:#f5442f;">7</div>
<div class="t" style="left:106.0px;top:103.1px;height:15px;line-height:15px;font-size:12.0px;color:#3a2fe0;letter-spacing:0.64px;">10</div>
<div class="t" style="left:124.6px;top:103.1px;height:15px;line-height:15px;font-size:12.0px;color:#cf4ff0;letter-spacing:0.25px;">20</div>
<div class="t" style="left:143.0px;top:103.1px;height:15px;line-height:15px;font-size:12.0px;color:#f5f5f5;letter-spacing:0.14px;">60</div>
<div class="t" style="left:160.8px;top:103.1px;height:15px;line-height:15px;font-size:12.0px;color:#111;letter-spacing:0.59px;">240</div>
<div class="t" style="left:186.0px;top:103.1px;height:15px;line-height:15px;font-size:12.0px;color:#f20d0d;letter-spacing:0.73px;">480</div>
<div class="t" style="left:15.6px;top:166.8px;height:15px;line-height:15px;font-size:12.0px;color:#3a22dd;letter-spacing:0.30px;">1605</div>
<div class="t" style="left:15.6px;top:195.7px;height:15px;line-height:15px;font-size:12.0px;color:#3a22dd;letter-spacing:0.30px;">1552</div>
<div class="t" style="left:15.6px;top:274.1px;height:15px;line-height:15px;font-size:12.0px;color:#3a22dd;letter-spacing:0.30px;">1409</div>
<div class="t" style="left:673.8px;top:147.8px;height:15px;line-height:15px;font-size:12.0px;color:#e0342f;letter-spacing:0.04px;"><span class="k" style="font-size:11px;width:22.1px">최고</span> 1,660 (−10.42%) − 2026.01.29</div>
<div class="t" style="left:234.4px;top:583.6px;height:15px;line-height:15px;font-size:12.0px;color:#2b7de9;letter-spacing:0.08px;"><span class="k" style="font-size:11px;width:22.2px">최저</span> 862 (+72.51%) − 2025.11.21</div>
<div class="t" style="left:1016.8px;top:236.3px;height:15px;line-height:15px;font-size:12.4px;color:#fff;letter-spacing:-0.65px;-webkit-text-stroke:0.4px #fff;">1,487</div>
<div class="t" style="left:1016.4px;top:251.3px;height:15px;line-height:15px;font-size:12.4px;color:#fff;letter-spacing:-0.31px;-webkit-text-stroke:0.4px #fff;">+12.91%</div>
<div class="t" style="left:23.5px;top:625.7px;height:16px;line-height:16px;font-size:13.0px;color:#fff;font-weight:bold;">α</div>
<div class="t" style="left:45.6px;top:619.0px;height:24px;line-height:24px;font-size:19.5px;color:#e88080;letter-spacing:-0.10px;"><span class="k" style="font-size:18px;width:89.5px">알파스퀘어</span></div>
<div class="t" style="left:1019.8px;top:126.0px;height:15px;line-height:15px;font-size:12.0px;color:#444;letter-spacing:-0.19px;">1,700</div>
<div class="t" style="left:1019.8px;top:180.6px;height:15px;line-height:15px;font-size:12.0px;color:#444;letter-spacing:-0.19px;">1,600</div>
<div class="t" style="left:1019.8px;top:289.8px;height:15px;line-height:15px;font-size:12.0px;color:#444;letter-spacing:-0.19px;">1,400</div>
<div class="t" style="left:1019.8px;top:344.4px;height:15px;line-height:15px;font-size:12.0px;color:#444;letter-spacing:-0.19px;">1,300</div>
<div class="t" style="left:1019.8px;top:399.0px;height:15px;line-height:15px;font-size:12.0px;color:#444;letter-spacing:-0.19px;">1,200</div>
<div class="t" style="left:1019.8px;top:453.6px;height:15px;line-height:15px;font-size:12.0px;color:#444;letter-spacing:-0.19px;">1,100</div>
<div class="t" style="left:1019.8px;top:508.2px;height:15px;line-height:15px;font-size:12.0px;color:#444;letter-spacing:-0.19px;">1,000</div>
<div class="t" style="left:1019.8px;top:562.8px;height:15px;line-height:15px;font-size:12.0px;color:#444;letter-spacing:0.20px;">900</div>
<div class="t" style="left:1019.8px;top:617.4px;height:15px;line-height:15px;font-size:12.0px;color:#444;letter-spacing:0.20px;">800</div>
<div class="t" style="left:1019.1px;top:676.8px;height:15px;line-height:15px;font-size:12.0px;color:#444;letter-spacing:-0.05px;">600<span class="k" style="font-size:11px;width:10.9px">만</span></div>
<div class="t" style="left:1019.1px;top:731.0px;height:15px;line-height:15px;font-size:12.0px;color:#444;letter-spacing:-0.05px;">400<span class="k" style="font-size:11px;width:10.9px">만</span></div>
<div class="t" style="left:1019.1px;top:784.9px;height:15px;line-height:15px;font-size:12.0px;color:#444;letter-spacing:-0.05px;">200<span class="k" style="font-size:11px;width:10.9px">만</span></div>
<div class="t" style="left:13.6px;top:668.9px;height:15px;line-height:15px;font-size:12.2px;color:#555;letter-spacing:-0.50px;"><span class="k" style="font-size:11px;width:31.5px">거래량</span></div>
<div class="t" style="left:54.7px;top:669.0px;height:15px;line-height:15px;font-size:12.0px;color:#e8262b;letter-spacing:0.13px;">30<span class="k" style="font-size:11px;width:11.1px">만</span> 6,345 (+330.00%)</div>
<div class="t" style="left:-0.6px;top:854.3px;height:15px;line-height:15px;font-size:12.0px;color:#444;letter-spacing:0.20px;width:80.0px;text-align:center;">2025.11.05</div>
<div class="t" style="left:101.4px;top:854.3px;height:15px;line-height:15px;font-size:12.0px;color:#444;letter-spacing:0.20px;width:80.0px;text-align:center;">2025.11.14</div>
<div class="t" style="left:203.3px;top:854.3px;height:15px;line-height:15px;font-size:12.0px;color:#444;letter-spacing:0.20px;width:80.0px;text-align:center;">2025.11.25</div>
<div class="t" style="left:305.3px;top:854.3px;height:15px;line-height:15px;font-size:12.0px;color:#444;letter-spacing:0.20px;width:80.0px;text-align:center;">2025.12.04</div>
<div class="t" style="left:407.2px;top:854.3px;height:15px;line-height:15px;font-size:12.0px;color:#444;letter-spacing:0.20px;width:80.0px;text-align:center;">2025.12.15</div>
<div class="t" style="left:509.2px;top:854.3px;height:15px;line-height:15px;font-size:12.0px;color:#444;letter-spacing:0.20px;width:80.0px;text-align:center;">2025.12.24</div>
<div class="t" style="left:611.2px;top:854.3px;height:15px;line-height:15px;font-size:12.0px;color:#444;letter-spacing:0.20px;width:80.0px;text-align:center;">2026.01.07</div>
<div class="t" style="left:713.1px;top:854.3px;height:15px;line-height:15px;font-size:12.0px;color:#444;letter-spacing:0.20px;width:80.0px;text-align:center;">2026.01.16</div>
<div class="t" style="left:815.1px;top:854.3px;height:15px;line-height:15px;font-size:12.0px;color:#444;letter-spacing:0.20px;width:80.0px;text-align:center;">2026.01.27</div>
<div class="t" style="left:917.0px;top:854.3px;height:15px;line-height:15px;font-size:12.0px;color:#444;letter-spacing:0.20px;width:80.0px;text-align:center;">2026.02.05</div>
</body></html>
